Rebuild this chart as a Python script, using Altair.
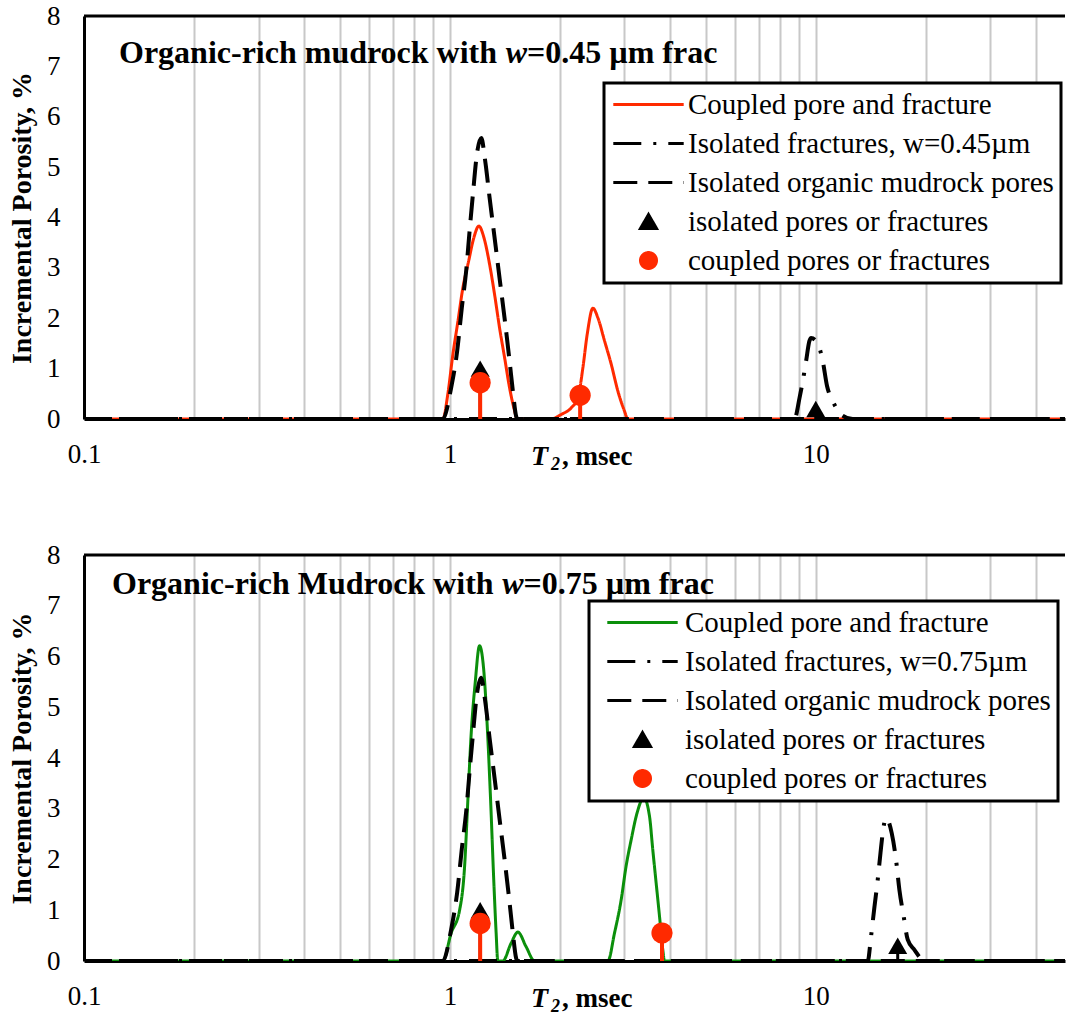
import altair as alt
import pandas as pd

FONT = "Liberation Serif"
RED = "#ff2a00"
GREEN = "#0b8f0b"
BLACK = "#000000"

T_DOMAIN = [0.1, 48]
Y_DOMAIN = [0, 8]
X_TICK_VALUES = [0.1, 0.2, 0.3, 0.4, 0.5, 0.6, 0.7, 0.8, 0.9,
                 1, 2, 3, 4, 5, 6, 7, 8, 9, 10, 20, 30, 40]
X_LABEL_VALUES = [0.1, 1, 10]
Y_TICK_VALUES = [0, 1, 2, 3, 4, 5, 6, 7, 8]

# Isolated organic mudrock pores (identical in both panels)
pores_t = [0.1, 0.957, 1.008, 1.047, 1.078, 1.108, 1.132, 1.156, 1.185, 1.218,
           1.249, 1.284, 1.325, 1.367, 1.411, 1.456, 1.486, 1.517, 1.53, 48]
pores_v = [0, 0, 0.62, 1.35, 2.21, 2.94, 3.73, 4.46, 5.25, 5.58,
           5.12, 4.39, 3.6, 2.8, 2.0, 1.15, 0.56, 0.06, 0, 0]

# w = 0.45 um fracture
coupled45_t = [0.1, 0.957, 0.987, 1.019, 1.052, 1.085, 1.125, 1.163, 1.200, 1.239,
               1.284, 1.325, 1.367, 1.411, 1.456, 1.503, 1.527,
               1.89, 2.015, 2.145, 2.238, 2.31, 2.373, 2.46, 2.538, 2.647, 2.76,
               2.877, 3.0, 3.064, 48]
coupled45_v = [0, 0, 0.49, 1.28, 1.94, 2.6, 3.13, 3.6, 3.83, 3.6,
               3.07, 2.47, 1.81, 1.22, 0.62, 0.16, 0,
               0, 0.09, 0.22, 0.42, 1.02, 1.68, 2.2, 2.01, 1.55, 1.09,
               0.56, 0.16, 0, 0]
frac45_t = [0.1, 8.745, 9.03, 9.215, 9.41, 9.61, 9.71, 10.13, 10.45, 10.74,
            11.13, 11.73, 12.62, 48]
frac45_v = [0, 0, 0.42, 0.75, 1.15, 1.55, 1.61, 1.49, 1.15, 0.65,
            0.36, 0.09, 0, 0]
iso45_t = [1.21, 10.0]
iso45_v = [1.0, 0.2]
cpl45_t = [1.21, 2.27]
cpl45_v = [0.72, 0.47]

# w = 0.75 um fracture
coupled75_t = [0.1, 0.957, 1.008, 1.063, 1.097, 1.12, 1.144, 1.173, 1.205, 1.239,
               1.265, 1.292, 1.319, 1.338, 1.352,
               1.395, 1.47, 1.534, 1.616, 1.703,
               2.703, 2.818, 2.938, 3.03, 3.13, 3.249, 3.389, 3.513, 3.586,
               3.662, 3.741, 3.819, 3.86, 48]
coupled75_v = [0, 0, 0.55, 1.0, 1.86, 3.18, 4.5, 5.49, 6.21, 5.69,
               4.63, 3.18, 1.54, 0.55, 0,
               0, 0.35, 0.57, 0.28, 0,
               0, 0.55, 1.2, 1.86, 2.39, 2.92, 3.22, 2.85, 2.19,
               1.54, 0.88, 0.22, 0, 0]
frac75_t = [0.1, 13.87, 14.16, 14.47, 14.77, 15.03, 15.24, 15.56, 16.13, 16.57,
            16.93, 17.39, 17.84, 18.61, 19.82, 48]
frac75_v = [0, 0, 0.48, 1.07, 1.6, 2.13, 2.52, 2.82, 2.52, 2.0,
            1.4, 0.88, 0.42, 0.22, 0, 0]
iso75_t = [1.21, 16.75]
iso75_v = [1.0, 0.3]
cpl75_t = [1.21, 3.8]
cpl75_v = [0.74, 0.55]

names45 = ["Coupled pore and fracture", "Isolated fractures, w=0.45µm",
           "Isolated organic mudrock pores", "isolated pores or fractures",
           "coupled pores or fractures"]
names75 = ["Coupled pore and fracture", "Isolated fractures, w=0.75µm",
           "Isolated organic mudrock pores", "isolated pores or fractures",
           "coupled pores or fractures"]

DASHES = [[1, 0], [28, 12, 3, 12], [24, 11], [1, 0], [1, 0]]
LINE_SYMBOL = "M-4.4,0H4.4"
SHAPES = [LINE_SYMBOL, LINE_SYMBOL, LINE_SYMBOL, "triangle-up", "circle"]

WIDTH = 981
ANCHOR = pd.DataFrame({"k": [0]})

label_test = "indexof([" + ",".join(str(v) for v in X_LABEL_VALUES) + "], datum.value) >= 0"


def words(text, x, y, size, italic=False):
    return alt.Chart(ANCHOR).mark_text(
        text=text, font=FONT, fontSize=size, fontWeight="bold",
        fontStyle="italic" if italic else "normal", align="left",
        baseline="alphabetic", color=BLACK,
    ).encode(x=alt.value(x), y=alt.value(y))


def panel(height, names, colors, curves, iso_t, iso_v, cpl_t, cpl_v,
          title_pieces, title_y, sym_offset, lab_offset, legend_x, legend_y):
    legend = alt.Legend(
        title=None, orient="none", legendX=legend_x, legendY=legend_y,
        labelFont=FONT, labelFontSize=29, labelColor=BLACK, labelLimit=1000,
        symbolSize=256, symbolStrokeWidth=3, symbolOpacity=1,
        symbolOffset=sym_offset, labelOffset=lab_offset,
        rowPadding=9, padding=7, strokeColor=BLACK, fillColor="white",
    )
    cscale = alt.Scale(domain=names, range=colors)
    dscale = alt.Scale(domain=names, range=DASHES)
    sscale = alt.Scale(domain=names, range=SHAPES)

    x = alt.X("T:Q", title=None,
              scale=alt.Scale(type="log", domain=T_DOMAIN, nice=False),
              axis=alt.Axis(values=X_TICK_VALUES, format="~g",
                            labelExpr=f"{label_test} ? datum.label : ''",
                            grid=True, gridColor="#c8c8c8", gridWidth=2,
                            ticks=False, domainColor=BLACK, domainWidth=3,
                            labelFont=FONT, labelFontSize=27, labelColor=BLACK,
                            labelPadding=22, labelOverlap=False, labelFlush=False))
    y = alt.Y("v:Q", title="Incremental Porosity, %",
              scale=alt.Scale(domain=Y_DOMAIN, nice=False),
              axis=alt.Axis(values=Y_TICK_VALUES, grid=False, ticks=False,
                            domainColor=BLACK, domainWidth=3,
                            labelFont=FONT, labelFontSize=27, labelColor=BLACK,
                            labelPadding=24, titleFont=FONT, titleFontSize=28,
                            titleFontWeight="bold", titleColor=BLACK,
                            titlePadding=10))
    color = alt.Color("series:N", scale=cscale, legend=legend)
    dash = alt.StrokeDash("series:N", scale=dscale, legend=legend)
    shape = alt.Shape("series:N", scale=sscale, legend=legend)

    layers = []
    for t, v, name, width in curves:
        df = pd.DataFrame({"T": t, "v": v, "series": name})
        layers.append(
            alt.Chart(df).mark_line(strokeWidth=width, interpolate="monotone",
                                    strokeCap="butt", clip=True)
            .encode(x=x, y=y, color=color, strokeDash=dash)
        )

    iso = pd.DataFrame({"T": iso_t, "v": iso_v, "series": names[3]})
    cpl = pd.DataFrame({"T": cpl_t, "v": cpl_v, "series": names[4]})
    layers.append(alt.Chart(iso).mark_rule(color=BLACK, strokeWidth=3)
                  .encode(x=x, y=y, y2=alt.datum(0)))
    layers.append(alt.Chart(iso).mark_point(filled=True, size=361, opacity=1)
                  .encode(x=x, y=y, color=color, shape=shape))
    layers.append(alt.Chart(cpl).mark_rule(color=RED, strokeWidth=4)
                  .encode(x=x, y=y, y2=alt.datum(0)))
    layers.append(alt.Chart(cpl).mark_point(filled=True, size=450, opacity=1)
                  .encode(x=x, y=y, color=color, shape=shape))

    # frame line along the top of the plot
    layers.append(alt.Chart(ANCHOR).mark_rule(color=BLACK, strokeWidth=3)
                  .encode(y=alt.value(0)))

    for text, tx, italic in title_pieces:
        layers.append(words(text, tx, title_y, 32, italic))

    # x-axis title: T (italic) with subscript 2, then ", msec"
    layers.append(words("T", 447, height + 46, 28, True))
    layers.append(words("2", 467, height + 51, 18, True))
    layers.append(words(", msec", 478, height + 46, 27))

    return alt.layer(*layers).properties(width=WIDTH, height=height)


top = panel(
    403, names45, [RED, BLACK, BLACK, BLACK, RED],
    [(coupled45_t, coupled45_v, names45[0], 3),
     (frac45_t, frac45_v, names45[1], 4),
     (pores_t, pores_v, names45[2], 4)],
    iso45_t, iso45_v, cpl45_t, cpl45_v,
    [("Organic-rich mudrock with ", 35, False), ("w", 421.7, True),
     ("=0.45 µm frac", 443, False)],
    47, 23, 25, 520, 67,
)

bottom = panel(
    406, names75, [GREEN, BLACK, BLACK, BLACK, RED],
    [(coupled75_t, coupled75_v, names75[0], 3),
     (frac75_t, frac75_v, names75[1], 4),
     (pores_t, pores_v, names75[2], 4)],
    iso75_t, iso75_v, cpl75_t, cpl75_v,
    [("Organic-rich Mudrock with ", 28, False), ("w", 418.2, True),
     ("=0.75 µm frac", 439.5, False)],
    39, 32, 28, 505, 46,
)

chart = (
    alt.vconcat(top, bottom, spacing=67)
    .resolve_scale(color="independent", strokeDash="independent",
                   shape="independent")
    .resolve_legend(color="independent", strokeDash="independent",
                    shape="independent")
    .properties(padding={"left": 8, "top": 2, "right": 0, "bottom": 0},
                background="white")
    .configure_view(stroke=None)
    .configure_legend(strokeWidth=3)
)

chart.save("out.html", embed_options={"renderer": "svg", "actions": False})
